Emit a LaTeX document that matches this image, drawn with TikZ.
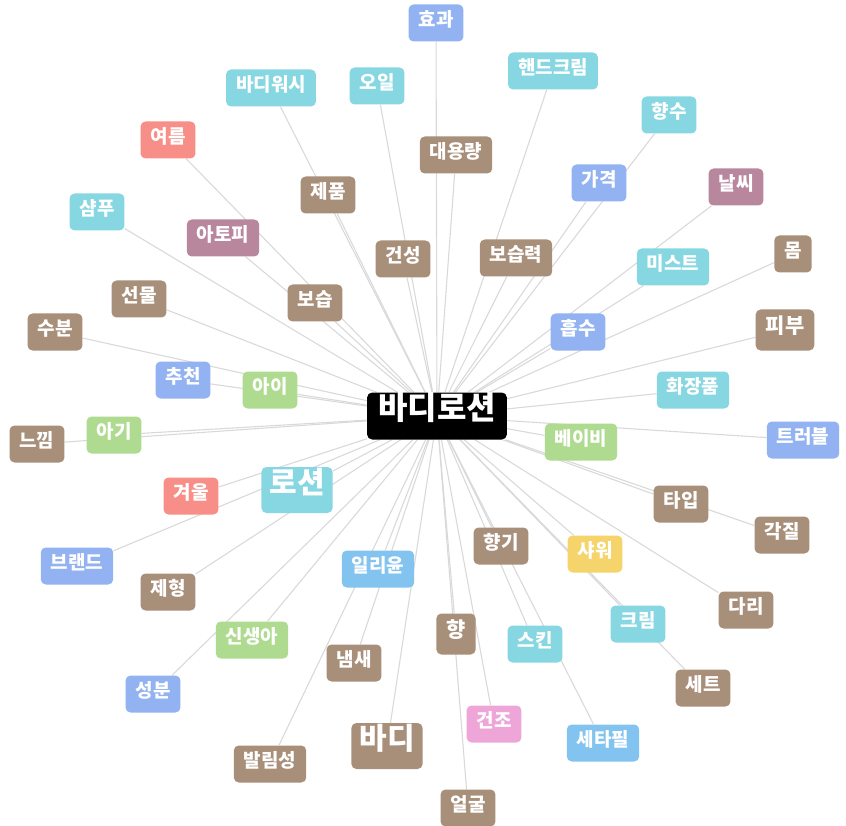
\documentclass[tikz,border=0pt]{standalone}
\usepackage{fontspec}
\setmainfont{Noto Sans CJK KR}
\usepackage{xcolor}
\usepackage{tikz}
\usetikzlibrary{backgrounds}

\definecolor{kwbrown}{HTML}{A88F7A}
\definecolor{kwteal}{HTML}{86D7E1}
\definecolor{kwblue}{HTML}{92B2F1}
\definecolor{kwgreen}{HTML}{AEDB8F}
\definecolor{kwred}{HTML}{F78E87}
\definecolor{kwmauve}{HTML}{B8879D}
\definecolor{kwsky}{HTML}{83C3F0}
\definecolor{kwyellow}{HTML}{F4D46B}
\definecolor{kwpink}{HTML}{EEA6D9}
\definecolor{kwline}{HTML}{D9D9D9}

\tikzset{
  tag/.style={rounded corners=5pt,text=white,inner xsep=10pt,inner ysep=0pt,
    minimum height=37pt,font=\fontsize{19}{19}\selectfont\bfseries,
    text height=0.83em,text depth=0.17em},
  tagmid/.style={tag,minimum height=41pt,font=\fontsize{21}{21}\selectfont\bfseries},
  tagbig/.style={tag,inner xsep=8pt,minimum height=46pt,font=\fontsize{30}{30}\selectfont\bfseries},
  tbrown/.style={tag,fill=kwbrown},
  tteal/.style={tag,fill=kwteal},
  tblue/.style={tag,fill=kwblue},
  tgreen/.style={tag,fill=kwgreen},
  tred/.style={tag,fill=kwred},
  tmauve/.style={tag,fill=kwmauve},
  tsky/.style={tag,fill=kwsky},
  tyellow/.style={tag,fill=kwyellow},
  tpink/.style={tag,fill=kwpink},
  link/.style={draw=kwline,line width=1.1pt}
}

\begin{document}
\begin{tikzpicture}[x=1pt,y=-1pt]
\useasboundingbox (0,0) rectangle (846,826);

\node[tag,fill=black,inner xsep=11pt,minimum height=47pt,font=\fontsize{32}{32}\selectfont\bfseries] (c) at (437,416) {바디로션};	% Mitte

% oben
\node[tblue] (effect) at (436,23) {효과};
\node[tteal] (bodywash) at (271,88) {바디워시};
\node[tteal] (oil) at (377,86) {오일};
\node[tteal] (handcream) at (553,71) {핸드크림};
\node[tteal] (perfume) at (669,115) {향수};
\node[tred] (summer) at (168,140) {여름};
\node[tbrown] (bigsize) at (456,155) {대용량};
\node[tblue] (price) at (599,183) {가격};
\node[tmauve] (weather) at (736,187) {날씨};
\node[tbrown] (product) at (328,195) {제품};
\node[tteal] (shampoo) at (97,212) {샴푸};
\node[tmauve] (atopy) at (223,238) {아토피};
\node[tbrown] (dryskin) at (403,259) {건성};
\node[tbrown] (moistpower) at (516,258) {보습력};
\node[tteal] (mist) at (673,267) {미스트};
\node[tbrown] (body) at (793,254) {몸};

% mitte
\node[tbrown] (gift) at (139,299) {선물};
\node[tbrown] (moist) at (315,303) {보습};
\node[tbrown] (water) at (55,332) {수분};
\node[tblue] (absorb) at (578,332) {흡수};
\node[tbrown,tagmid] (skin) at (785,330) {피부};
\node[tblue] (recommend) at (183,380) {추천};
\node[tgreen] (kid) at (270,390) {아이};
\node[tteal] (cosmetics) at (693,390) {화장품};
\node[tgreen] (baby) at (114,435) {아기};
\node[tbrown] (feel) at (37,444) {느낌};
\node[tgreen] (babyb) at (581,442) {베이비};
\node[tblue] (trouble) at (803,440) {트러블};
\node[tteal,tagbig] (lotion) at (297,490) {로션};
\node[tred] (winter) at (191,496) {겨울};
\node[tbrown] (type) at (681,504) {타입};
\node[tbrown] (keratin) at (782,535) {각질};

% unten
\node[tbrown] (scent) at (501,546) {향기};
\node[tyellow] (shower) at (595,554) {샤워};
\node[tblue] (brand) at (77,566) {브랜드};
\node[tsky] (illiyoon) at (378,569) {일리윤};
\node[tbrown] (texture) at (168,592) {제형};
\node[tbrown] (leg) at (746,610) {다리};
\node[tgreen] (newborn) at (252,640) {신생아};
\node[tteal] (cream) at (638,624) {크림};
\node[tbrown,tagmid] (hyang) at (456,634) {향};
\node[tteal] (toner) at (535,644) {스킨};
\node[tbrown] (smell) at (354,663) {냄새};
\node[tblue] (ingredient) at (153,694) {성분};
\node[tbrown] (set) at (703,688) {세트};
\node[tpink] (dryness) at (494,724) {건조};
\node[tsky] (cetaphil) at (603,743) {세타필};
\node[tbrown,tagbig] (bodyb) at (387,746) {바디};
\node[tbrown] (spread) at (270,764) {발림성};
\node[tbrown] (face) at (468,808) {얼굴};

% Kanten hinter den Knoten
\begin{pgfonlayer}{background}
\foreach \n in {effect,bodywash,oil,handcream,perfume,summer,bigsize,price,weather,product,
  shampoo,atopy,dryskin,moistpower,mist,body,gift,moist,water,absorb,skin,recommend,kid,
  cosmetics,baby,feel,babyb,trouble,lotion,winter,type,keratin,scent,shower,brand,illiyoon,
  texture,leg,newborn,cream,hyang,toner,smell,ingredient,set,dryness,cetaphil,bodyb,spread,face}
  \draw[link] (c) -- (\n);
\end{pgfonlayer}

\end{tikzpicture}
\end{document}
